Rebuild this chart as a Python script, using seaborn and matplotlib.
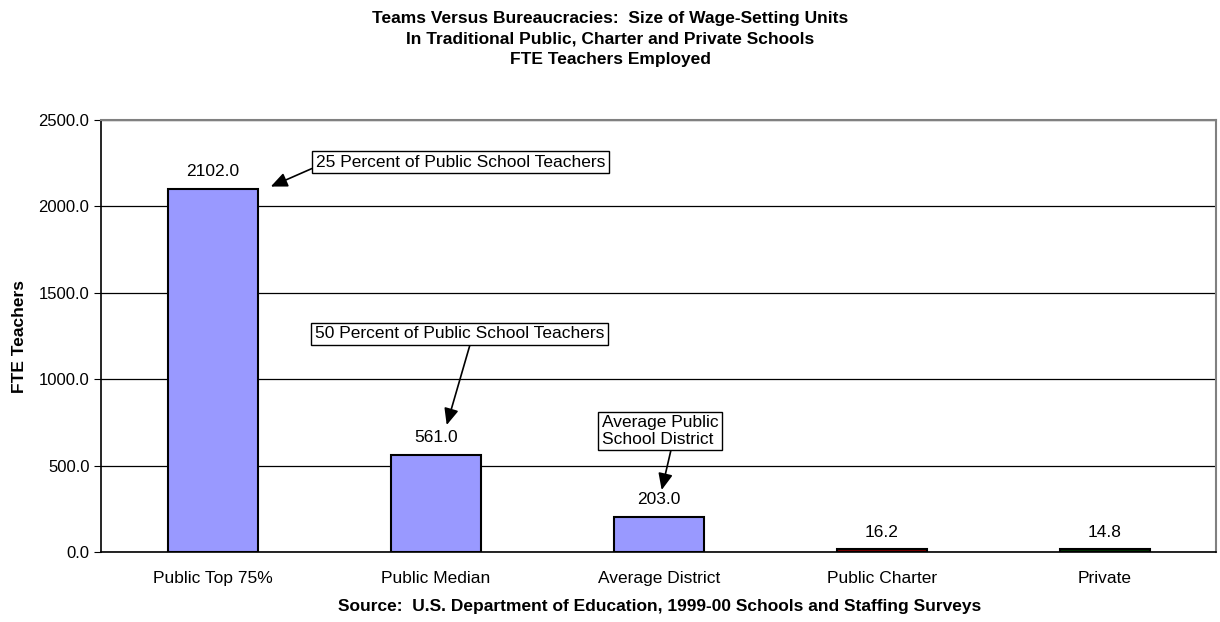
import matplotlib
matplotlib.use("Agg")
import matplotlib.pyplot as plt
import seaborn as sns
from matplotlib.ticker import FormatStrFormatter, FixedLocator

categories = ["Public Top 75%", "Public Median", "Average District", "Public Charter", "Private"]
fte_teachers = [2102.0, 561.0, 203.0, 16.2, 14.8]
bar_colors = ["#9999FF", "#9999FF", "#9999FF", "#800000", "#003300"]

notes = [
    ("25 Percent of Public School Teachers", 2257, (0.260, 2115), (0.0, 0.18)),
    ("50 Percent of Public School Teachers", 1262, (1.049, 735), (0.54, 0.0)),
    ("Average Public\nSchool District", 700, (2.013, 359), (0.6, 0.0)),
]
note_x = [0.462, 0.457, 1.744]

FS = 12.5

sns.set_style("white")
plt.rcParams["font.family"] = ["Liberation Sans", "DejaVu Sans"]
plt.rcParams["text.color"] = "black"
plt.rcParams["axes.labelcolor"] = "black"
plt.rcParams["xtick.color"] = "black"
plt.rcParams["ytick.color"] = "black"

fig = plt.figure(figsize=(12.2, 6.22), dpi=100)
ax = fig.add_axes([0.083, 0.1125, 0.914, 0.6945])

sns.barplot(x=categories, y=fte_teachers, hue=categories, palette=bar_colors,
            width=0.405, edgecolor="black", linewidth=1.5, legend=False,
            saturation=1, ax=ax)

ax.set_xlim(-0.5, 4.5)
ax.set_ylim(0, 2500)
ax.set_yticks([0, 500, 1000, 1500, 2000, 2500])
ax.yaxis.set_major_formatter(FormatStrFormatter("%.1f"))
ax.grid(axis="y", color="black", linewidth=0.9)
ax.set_axisbelow(True)

for c in ax.containers:
    ax.bar_label(c, fmt="%.1f", padding=7, fontsize=FS, color="black")

for side in ["top", "right"]:
    ax.spines[side].set_visible(True)
    ax.spines[side].set_color("#808080")
    ax.spines[side].set_linewidth(1.5)
for side in ["left", "bottom"]:
    ax.spines[side].set_color("black")
    ax.spines[side].set_linewidth(1.2)

ax.tick_params(axis="x", which="major", length=0, pad=14, labelsize=FS)
ax.xaxis.set_minor_locator(FixedLocator([-0.5, 0.5, 1.5, 2.5, 3.5, 4.5]))
ax.tick_params(axis="x", which="minor", length=5, direction="out", color="black")
ax.tick_params(axis="y", length=5, direction="out", color="black", labelsize=12, left=True)

ax.set_xlabel("")
ax.set_ylabel("FTE Teachers", fontsize=FS, fontweight="bold", labelpad=8)

for (label, ty, tip, rel), tx in zip(notes, note_x):
    ax.annotate(label, xy=tip, xytext=(tx, ty), ha="left", va="center",
                fontsize=FS, linespacing=1.15,
                bbox=dict(boxstyle="square,pad=0.2", fc="white", ec="black", lw=1),
                arrowprops=dict(arrowstyle="-|>,head_length=0.8,head_width=0.35",
                                color="black", lw=1.2, relpos=rel, shrinkA=0, shrinkB=0))

fig.text(0.5, 0.9375, "Teams Versus Bureaucracies:  Size of Wage-Setting Units\n"
         "In Traditional Public, Charter and Private Schools\nFTE Teachers Employed",
         ha="center", va="center", fontsize=FS, fontweight="bold", linespacing=1.45)
fig.text(0.541, 0.025, "Source:  U.S. Department of Education, 1999-00 Schools and Staffing Surveys",
         ha="center", va="center", fontsize=FS, fontweight="bold")

fig.savefig("out.png", dpi=100)
